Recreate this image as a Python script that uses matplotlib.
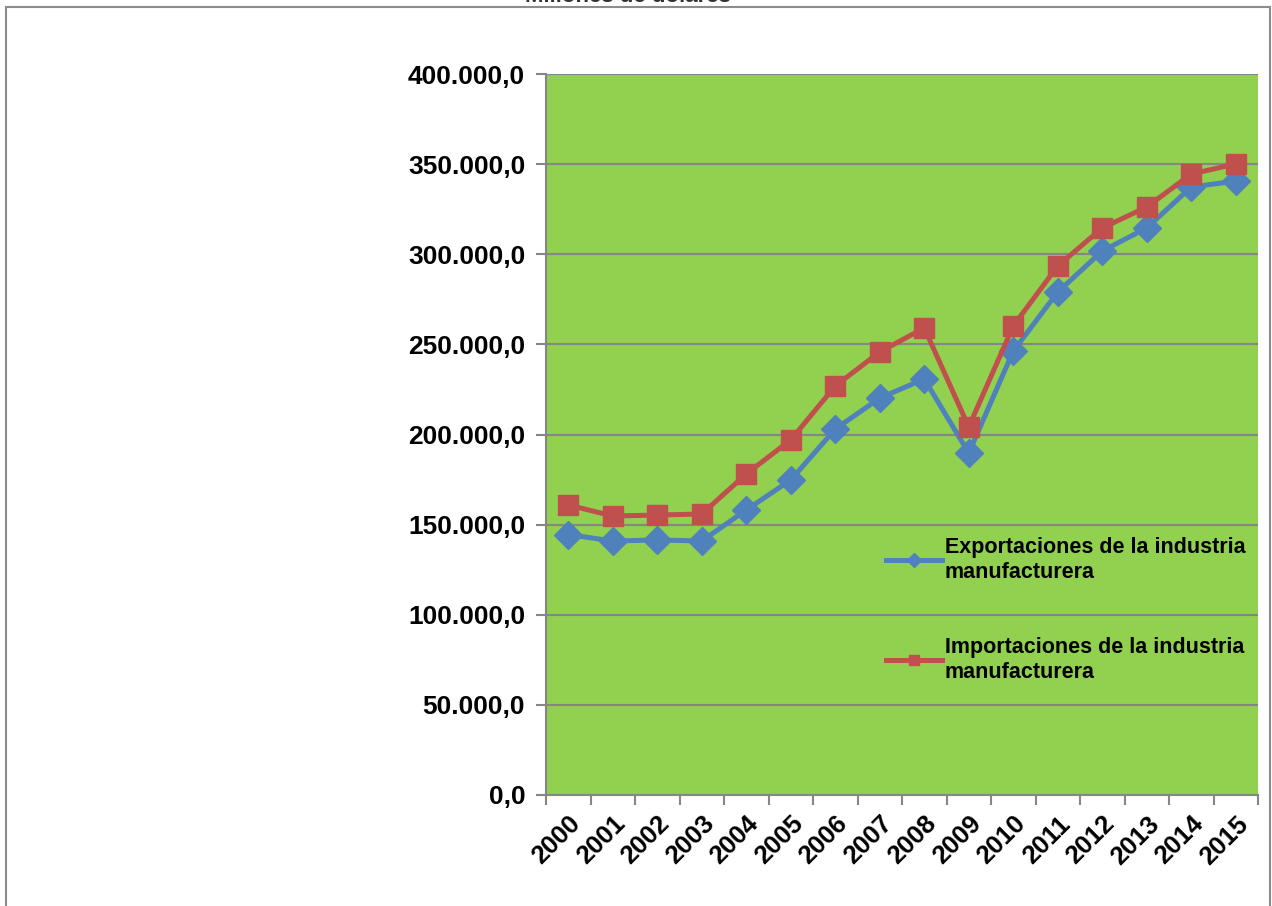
import matplotlib.pyplot as plt
from matplotlib.patches import Rectangle

plt.rcParams['font.family'] = ['Liberation Sans', 'DejaVu Sans']
plt.rcParams['font.weight'] = 'bold'

years = ['2000', '2001', '2002', '2003', '2004', '2005', '2006', '2007',
         '2008', '2009', '2010', '2011', '2012', '2013', '2014', '2015']

exportaciones = [144500, 140900, 141500, 140900, 158100, 174800, 203000, 220200,
                 230800, 189700, 246300, 279000, 301800, 314600, 337300, 340600]
importaciones = [160900, 154800, 155300, 155900, 178100, 197000, 226900, 245800,
                 259100, 204200, 260200, 293500, 314600, 326200, 344500, 350100]

y_ticks = [0, 50000, 100000, 150000, 200000, 250000, 300000, 350000, 400000]


def fmt(v):
    return '{:,.1f}'.format(v).replace(',', 'X').replace('.', ',').replace('X', '.')


fig = plt.figure(figsize=(12.72, 9.06), dpi=100)
ax = fig.add_axes([546 / 1272, 111 / 906, 712 / 1272, 721 / 906])

# outer chart border
fig.patches.append(Rectangle((6 / 1272, -0.05), 1264 / 1272, 1.05 - 7 / 906,
                             transform=fig.transFigure, fill=False,
                             edgecolor='#8c8c8c', linewidth=1.5))

ax.set_facecolor('#92D050')
x = [i + 0.5 for i in range(len(years))]

ax.plot(x, exportaciones, color='#4F81BD', linewidth=3.6, marker='D',
        markersize=14, label='Exportaciones de la industria\nmanufacturera')
ax.plot(x, importaciones, color='#C0504D', linewidth=3.6, marker='s',
        markersize=14, label='Importaciones de la industria\nmanufacturera')

ax.set_xlim(0, len(years))
ax.set_ylim(0, 400000)
ax.set_yticks(y_ticks)
ax.set_yticklabels([fmt(v) for v in y_ticks], fontsize=19, fontweight='bold')
ax.set_xticks(range(len(years) + 1))
ax.set_xticklabels([''] * (len(years) + 1))
ax.set_xticks(x, minor=True)
ax.set_xticklabels(years, minor=True, rotation=45, ha='right', va='top',
                   rotation_mode='anchor', fontsize=18.5, fontweight='bold')
ax.tick_params(axis='x', which='minor', length=0, pad=12)
ax.tick_params(axis='x', which='major', length=7, color='#868686', width=1.5)
ax.tick_params(axis='y', length=7, color='#868686', width=1.5, pad=8)

ax.grid(axis='y', color='#868686', linewidth=1.5)
ax.set_axisbelow(True)
for side in ['top', 'right']:
    ax.spines[side].set_visible(False)
for side in ['left', 'bottom']:
    ax.spines[side].set_color('#868686')
    ax.spines[side].set_linewidth(1.5)

leg = ax.legend(loc='upper left', bbox_to_anchor=(0.45, 0.385), frameon=False,
                prop={'size': 15.5, 'weight': 'bold'}, handlelength=2.6,
                handletextpad=0.15, labelspacing=2.5, markerscale=0.5)
for t in leg.get_texts():
    t.set_linespacing(1.25)

fig.text(0.494, 1.0 - 2 / 906, 'Millones de dólares', ha='center',
         va='baseline', fontsize=16, fontweight='bold', color='#333333')

fig.savefig('out.png', dpi=100)
